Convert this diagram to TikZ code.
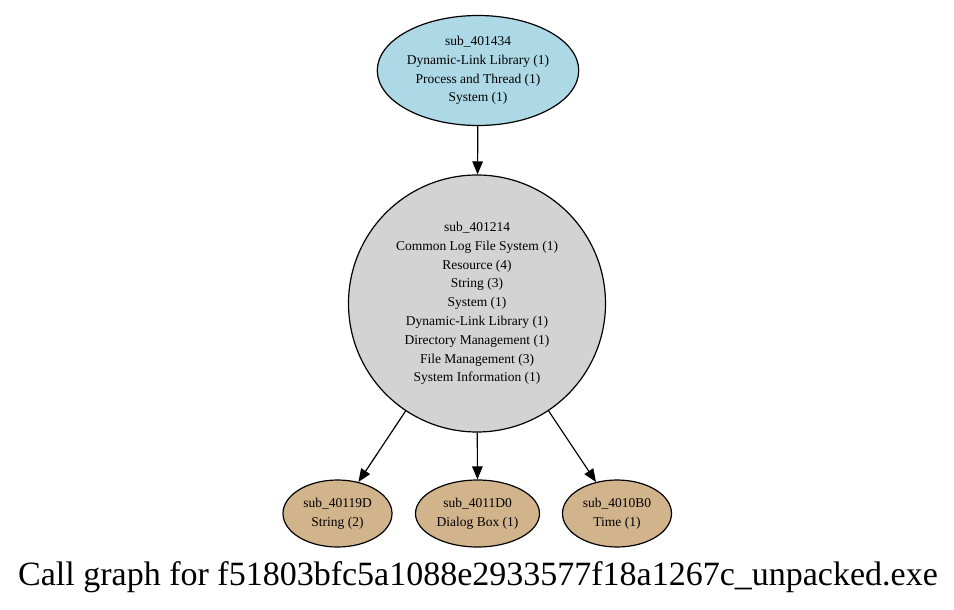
\documentclass[tikz,border=0pt]{standalone}
\usepackage{fontspec}
\setmainfont{Liberation Serif}
\usepackage{tikz}
\usetikzlibrary{arrows.meta,shapes.geometric}
\definecolor{fnblue}{HTML}{ADD8E6}
\definecolor{fngray}{HTML}{D3D3D3}
\definecolor{fntan}{HTML}{D2B48C}
\tikzset{%
	func/.style   = {draw, line width=1.2pt, ellipse, inner sep=0pt, align=center,
	                 font=\fontsize{13.5}{18.8}\selectfont}, % function node
	root/.style   = {func, fill=fnblue, minimum width=197pt, minimum height=110pt}, % caller
	hub/.style    = {func, circle, fill=fngray, minimum size=257pt}, % middle
	leaf/.style   = {func, fill=fntan, minimum height=67pt}, % callees
	call/.style   = {-{Triangle[length=13pt,width=10.5pt]}, line width=1.2pt}, % call edge
}
\begin{document}
\begin{tikzpicture}[x=1pt,y=-1pt]
	\useasboundingbox (0,0) rectangle (954,610);
	\node[root] (s401434) at (478,70.5) {sub\_401434\\Dynamic-Link Library (1)\\Process and Thread (1)\\System (1)};
	\node[hub] (s401214) at (477,303.5) {sub\_401214\\Common Log File System (1)\\Resource (4)\\String (3)\\System (1)\\Dynamic-Link Library (1)\\Directory Management (1)\\File Management (3)\\System Information (1)};
	\node[leaf, minimum width=109pt] (s40119D) at (337.5,513.5) {sub\_40119D\\String (2)};
	\node[leaf, minimum width=124pt] (s4011D0) at (477.5,513.5) {sub\_4011D0\\Dialog Box (1)};
	\node[leaf, minimum width=109pt] (s4010B0) at (617,513.5) {sub\_4010B0\\Time (1)};
	\node[anchor=base, font=\fontsize{34}{38}\selectfont] (title) at (478,585) {Call graph for f51803bfc5a1088e2933577f18a1267c\_unpacked.exe};
	\draw[call] (s401434) -- (s401214);
	\draw[call] (s401214) -- (s40119D);
	\draw[call] (s401214) -- (s4011D0);
	\draw[call] (s401214) -- (s4010B0);
\end{tikzpicture}
\end{document}
